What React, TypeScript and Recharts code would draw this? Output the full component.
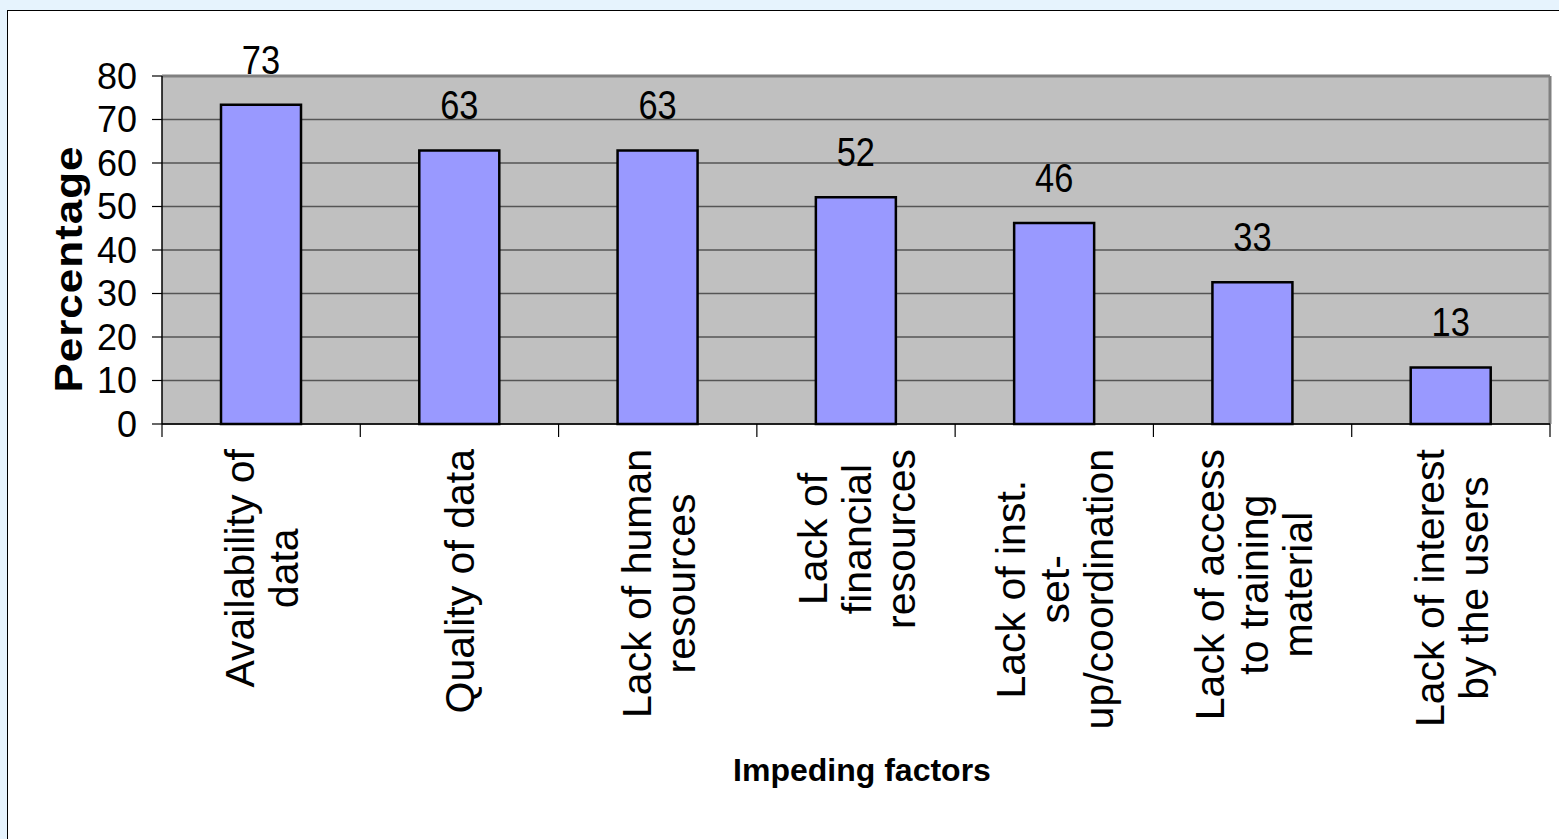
import React from 'react';
import { BarChart, Bar, XAxis, YAxis, CartesianGrid, LabelList, Label, ReferenceLine } from 'recharts';

const CATEGORY_LINES: string[][] = [
  ['Availability of', 'data'],
  ['Quality of data'],
  ['Lack of human', 'resources'],
  ['Lack of', 'financial', 'resources'],
  ['Lack of inst.', 'set-', 'up/coordination'],
  ['Lack of access', 'to training', 'material'],
  ['Lack of interest', 'by the users'],
];
const CATEGORIES = CATEGORY_LINES.map((l) => l.join(' '));
const PERCENTAGES = [73.4, 62.9, 62.9, 52.1, 46.2, 32.6, 13.0];
const Y_TICKS = [0, 10, 20, 30, 40, 50, 60, 70, 80];
const Y_TITLE = 'Percentage';
const X_TITLE = 'Impeding factors';

const data = CATEGORIES.map((name, i) => ({ name, value: PERCENTAGES[i], lines: CATEGORY_LINES[i] }));

const FONT = "'Liberation Sans', Arial, sans-serif";
const LABEL_SIZE = 41;

let ctx: CanvasRenderingContext2D | null = null;
function measure(text: string, size: number): number {
  try {
    if (!ctx) {
      const c = document.createElement('canvas');
      ctx = c.getContext('2d');
    }
    if (ctx) {
      ctx.font = `${size}px 'Liberation Sans'`;
      return ctx.measureText(text).width;
    }
  } catch (e) {}
  return text.length * size * 0.5;
}

const XTick = (props: any) => {
  const { x, y, index, width, visibleTicksCount } = props;
  const n = CATEGORY_LINES.length;
  const band = width && visibleTicksCount ? width / visibleTicksCount : 198;
  const lines = CATEGORY_LINES[index] || [];
  const maxW = Math.max(...lines.map((l) => measure(l, LABEL_SIZE)));
  const cy = y + 25 + maxW / 2;
  const lineGap = 44;
  return (
    <g>
      <line x1={x - band / 2} y1={y} x2={x - band / 2} y2={y + 13} stroke="#000" strokeWidth={1.2} />
      {index === n - 1 && (
        <line x1={x + band / 2} y1={y} x2={x + band / 2} y2={y + 13} stroke="#000" strokeWidth={1.2} />
      )}
      {lines.map((l, i) => {
        const bx = x + (i - (lines.length - 1) / 2) * lineGap + 15;
        return (
          <text
            key={i}
            x={bx}
            y={cy}
            transform={`rotate(-90 ${bx} ${cy})`}
            textAnchor="middle"
            fontSize={LABEL_SIZE}
            fontFamily={FONT}
            fill="#000"
          >
            {l}
          </text>
        );
      })}
    </g>
  );
};

const ValueLabel = (props: any) => {
  const { x, y, width, value } = props;
  const cx = x + width / 2;
  const by = y - 31;
  return (
    <text
      x={0}
      y={0}
      transform={`translate(${cx} ${by}) scale(0.93 1.1)`}
      textAnchor="middle"
      fontSize={37}
      fontFamily={FONT}
      fill="#000"
    >
      {Math.round(value)}
    </text>
  );
};

const XTitle = (props: any) => {
  const vb = props.viewBox || { x: 154, y: 413, width: 1388, height: 340 };
  const cx = vb.x + vb.width / 2 + 6;
  const by = vb.y + 356.5;
  return (
    <text x={cx} y={by} textAnchor="middle" fontSize={32} fontWeight="bold" fontFamily={FONT} fill="#000">
      {X_TITLE}
    </text>
  );
};

const YTitle = (props: any) => {
  const vb = props.viewBox || { x: 0, y: 65, width: 154, height: 348 };
  const bx = vb.x + 74;
  const cy = vb.y + vb.height / 2 + 19;
  return (
    <text
      x={0}
      y={0}
      transform={`translate(${bx} ${cy}) rotate(-90) scale(1 0.88)`}
      textAnchor="middle"
      fontSize={44}
      fontWeight="bold"
      letterSpacing={1}
      fontFamily={FONT}
      fill="#000"
    >
      {Y_TITLE}
    </text>
  );
};

export default function App() {
  return (
    <div style={{ position: 'fixed', left: 0, top: 0, right: 0, bottom: 0, background: '#e6f3fd', overflow: 'hidden' }}>
      <div
        style={{
          position: 'absolute',
          left: 7,
          top: 10,
          width: 1620,
          height: 900,
          border: '1px solid #000',
          background: '#fff',
        }}
      >
        <BarChart
          width={1551}
          height={828}
          data={data}
          margin={{ top: 65, right: 9, left: 0, bottom: 75 }}
          style={{ fontFamily: FONT }}
        >
          <CartesianGrid vertical={false} stroke="#555" strokeWidth={1.5} fill="#c0c0c0" fillOpacity={1} />
          <CartesianGrid
            horizontal={false}
            verticalCoordinatesGenerator={(p: any) => [p.offset.left + p.offset.width]}
            stroke="#808080"
            strokeWidth={3}
          />
          <ReferenceLine y={80} stroke="#808080" strokeWidth={3} />
          <XAxis
            dataKey="name"
            interval={0}
            height={340}
            tickSize={0}
            tickMargin={0}
            tickLine={false}
            axisLine={{ stroke: '#000', strokeWidth: 1.5 }}
            tick={<XTick />}
          >
            <Label content={<XTitle />} />
          </XAxis>
          <YAxis
            domain={[0, 80]}
            ticks={Y_TICKS}
            interval={0}
            width={154}
            tickSize={10}
            tickMargin={15}
            axisLine={{ stroke: '#000', strokeWidth: 1.5 }}
            tickLine={{ stroke: '#000', strokeWidth: 1.2 }}
            tick={{ fontSize: 36, fill: '#000', fontFamily: FONT }}
          >
            <Label content={<YTitle />} />
          </YAxis>
          <Bar dataKey="value" fill="#9999ff" stroke="#000" strokeWidth={2.5} barSize={80} isAnimationActive={false}>
            <LabelList dataKey="value" content={<ValueLabel />} />
          </Bar>
        </BarChart>
      </div>
    </div>
  );
}
